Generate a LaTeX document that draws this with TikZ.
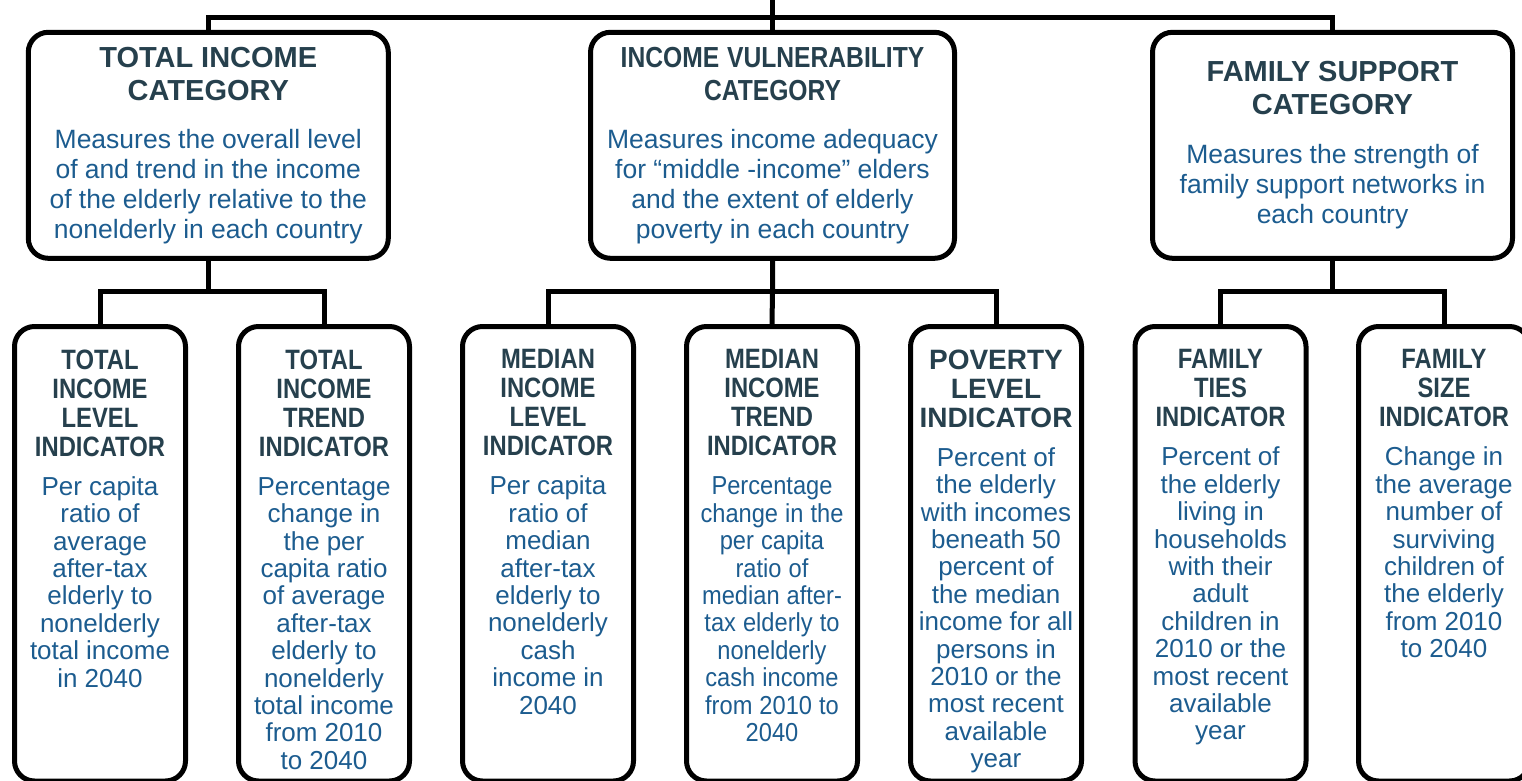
\documentclass[tikz,border=0pt]{standalone}
\usepackage{fontspec}
\setmainfont{Liberation Sans}
\newfontfamily\condfont[FakeStretch=0.85]{Liberation Sans}
\newfontfamily\slimfont[FakeStretch=0.91]{Liberation Sans}
\usetikzlibrary{positioning}

\definecolor{headcol}{RGB}{38,64,77}
\definecolor{bodycol}{RGB}{28,92,143}

% word spaces are set by hand (no stretch), so every line keeps the same gaps
\newcommand{\wordgap}{\spaceskip=0.27em\xspaceskip=\spaceskip}
\newcommand{\cathead}{\fontsize{29}{33}\selectfont\bfseries\color{headcol}\wordgap}
\newcommand{\catbody}{\fontsize{26.5}{30}\selectfont\color{bodycol}\wordgap}
\newcommand{\indhead}{\fontsize{28}{29}\selectfont\bfseries\color{headcol}\wordgap}
\newcommand{\indbody}{\fontsize{26}{27.4}\selectfont\color{bodycol}\wordgap}

\tikzset{
  catbox/.style={draw, line width=5pt, rounded corners=20pt, minimum width=360pt,
    minimum height=226pt, text width=350pt, align=center, inner sep=0pt},
  indbox/.style={draw, line width=5pt, rounded corners=20pt, minimum width=171pt,
    minimum height=454.5pt, inner sep=0pt, anchor=north},
  indtext/.style={text width=171pt, align=center, inner sep=0pt},
  link/.style={line width=5pt},
}

\begin{document}
\begin{tikzpicture}[x=1pt, y=-1pt]
        \useasboundingbox (0,0) rectangle (1522,781);
        \clip (0,0) rectangle (1522,781);

        % three categories
        \node[catbox] (catTotal) at (208.3,145.3) {{\cathead TOTAL INCOME\\CATEGORY\par}\vspace{18pt}%
          {\catbody Measures the overall level\\of and trend in the income\\of the elderly relative to the\\nonelderly in each country\par}};
        \node[catbox, minimum width=364pt] (catVuln) at (772.5,145.3) {{\condfont\cathead INCOME VULNERABILITY\\CATEGORY\par}\vspace{18pt}%
          {\catbody Measures income adequacy\\for “middle -income” elders\\and the extent of elderly\\poverty in each country\par}};
        \node[catbox] (catFamily) at (1332.5,145.3) {{\cathead FAMILY SUPPORT\\CATEGORY\par}\vspace{19pt}%
          {\catbody Measures the strength of\\family support networks in\\each country\par}};

        % indicator boxes
        \node[indbox] (indTotLevel) at (100,324) {};
        \node[indbox] (indTotTrend) at (324,324) {};
        \node[indbox] (indMedLevel) at (548,324) {};
        \node[indbox] (indMedTrend) at (772,324) {};
        \node[indbox] (indPoverty) at (996,324) {};
        \node[indbox] (indTies) at (1220.5,324) {};
        \node[indbox] (indSize) at (1444,324) {};

        % indicator texts
        \node[indtext, below=25.5pt of indTotLevel.north] (txtTotLevel) {{\condfont\indhead TOTAL\\INCOME\\LEVEL\\INDICATOR\par}\vspace{11.6pt}%
          {\indbody Per capita\\ratio of\\average\\after-tax\\elderly to\\nonelderly\\total income\\in 2040\par}};
        \node[indtext, below=25.5pt of indTotTrend.north] (txtTotTrend) {{\condfont\indhead TOTAL\\INCOME\\TREND\\INDICATOR\par}\vspace{11.6pt}%
          {\indbody Percentage\\change in\\the per\\capita ratio\\of average\\after-tax\\elderly to\\nonelderly\\total income\\from 2010\\to 2040\par}};
        \node[indtext, below=25.5pt of indMedLevel.north] (txtMedLevel) {{\condfont\indhead MEDIAN\\INCOME\\LEVEL\\INDICATOR\par}\vspace{11.6pt}%
          {\indbody Per capita\\ratio of\\median\\after-tax\\elderly to\\nonelderly\\cash\\income in\\2040\par}};
        \node[indtext, below=25.5pt of indMedTrend.north] (txtMedTrend) {{\condfont\indhead MEDIAN\\INCOME\\TREND\\INDICATOR\par}\vspace{11.6pt}%
          {\slimfont\indbody Percentage\\change in the\\per capita\\ratio of\\median after-\\tax elderly to\\nonelderly\\cash income\\from 2010 to\\2040\par}};
        \node[indtext, below=25.5pt of indPoverty.north] (txtPoverty) {{\indhead POVERTY\\LEVEL\\INDICATOR\par}\vspace{11.6pt}%
          {\indbody Percent of\\the elderly\\with incomes\\beneath 50\\percent of\\the median\\income for all\\persons in\\2010 or the\\most recent\\available\\year\par}};
        \node[indtext, below=25.5pt of indTies.north] (txtTies) {{\condfont\indhead FAMILY\\TIES\\INDICATOR\par}\vspace{11.6pt}%
          {\indbody Percent of\\the elderly\\living in\\households\\with their\\adult\\children in\\2010 or the\\most recent\\available\\year\par}};
        \node[indtext, below=25.5pt of indSize.north] (txtSize) {{\condfont\indhead FAMILY\\SIZE\\INDICATOR\par}\vspace{11.6pt}%
          {\indbody Change in\\the average\\number of\\surviving\\children of\\the elderly\\from 2010\\to 2040\par}};

        % tree lines
        \coordinate (root) at (772.5,17.5);
        \coordinate (stem) at (772.5,-10);
        \coordinate (busTotal) at (208.3,291);
        \coordinate (busVuln) at (772.5,291);
        \coordinate (busFamily) at (1332.5,291);

        \draw[link] (catTotal.north) |- (root) -| (catFamily.north);
        \draw[link] (stem) -- (catVuln.north);

        \draw[link] (catTotal.south) -- (busTotal);
        \draw[link] (indTotLevel.north) |- (busTotal) -| (indTotTrend.north);

        \draw[link] (catVuln.south) -- (busVuln) -- (indMedTrend.north);
        \draw[link] (indMedLevel.north) |- (busVuln) -| (indPoverty.north);

        \draw[link] (catFamily.south) -- (busFamily);
        \draw[link] (indTies.north) |- (busFamily) -| (indSize.north);
\end{tikzpicture}
\end{document}
